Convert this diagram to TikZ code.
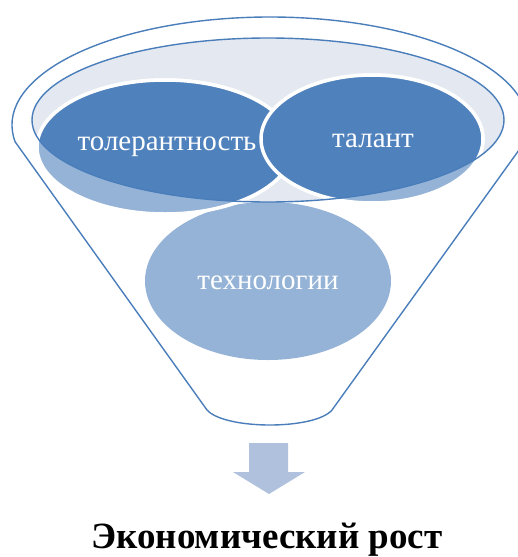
\documentclass[tikz,border=0pt]{standalone}
\usepackage{fontspec}
\setmainfont{Liberation Serif}
\newfontfamily\tnr{Liberation Serif}
\definecolor{fblue}{HTML}{4A7EBB}
\definecolor{dblue}{HTML}{4F81BD}
\definecolor{lblue}{HTML}{95B3D7}
\definecolor{pale}{HTML}{E3E8F1}
\definecolor{arrowc}{HTML}{AFC1DD}
\tikzset{
  lbl/.style={text=white, font=\tnr\fontsize{29}{31}\selectfont},
  ring/.style={draw=white, line width=3.5pt},
}
\begin{document}
\begin{tikzpicture}[x=1pt,y=-1pt]
\useasboundingbox (0,0) rectangle (518,557);
% outer funnel
\draw[fblue, line width=1.4pt, fill=white]
  (270,125) ++(171:258 and 108) arc[start angle=171, end angle=369, x radius=258, y radius=108]
  -- (332,410) .. controls (315,430) and (225,430) .. (207,410) -- cycle;
% inner ellipse fill
\fill[pale] (268,120) ellipse[x radius=236, y radius=82];
% technology
\fill[lblue] (268,281) ellipse[x radius=123, y radius=79];
% light versions
\path[fill=lblue, ring] (165,147) ellipse[x radius=128, y radius=67];
\path[fill=lblue, ring] (372,139) ellipse[x radius=111, y radius=64];
% dark versions clipped to inner ellipse
\begin{scope}
  \clip (268,120) ellipse[x radius=236, y radius=82];
  \path[fill=dblue, ring] (165,147) ellipse[x radius=128, y radius=67];
  \path[fill=dblue, ring] (372,139) ellipse[x radius=111, y radius=64];
\end{scope}
% inner ellipse outline
\draw[fblue, line width=1.4pt] (268,120) ellipse[x radius=236, y radius=82];
% labels
\node[lbl] (tol) at (167,147) {толерантность};
\node[lbl] (tal) at (373,141) {талант};
\node[lbl] (tech) at (268,283) {технологии};
% arrow
\fill[arrowc] (249,443) -- (288,443) -- (288,472) -- (305,472) -- (269,494) -- (233,472) -- (249,472) -- cycle;
\node[font=\tnr\bfseries\fontsize{37}{40}\selectfont, anchor=base] (res) at (267,548) {Экономический рост};
\end{tikzpicture}
\end{document}
